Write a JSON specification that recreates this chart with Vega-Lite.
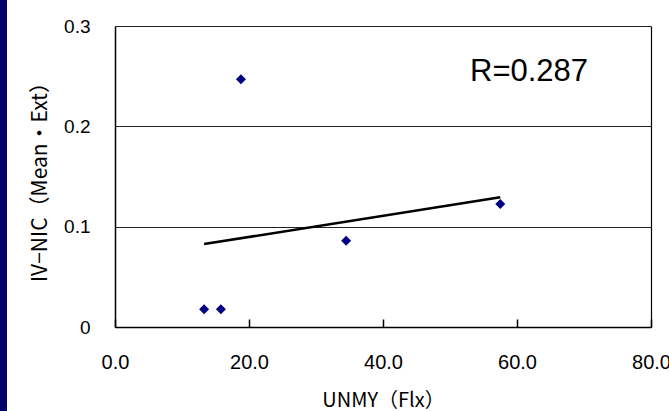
{
  "$schema": "https://vega.github.io/schema/vega-lite/v6.json",
  "width": 536,
  "height": 301,
  "autosize": {"type": "none"},
  "padding": {"left": 115, "top": 26, "right": 18, "bottom": 84},
  "background": "#000066",
  "config": {
    "view": {"fill": "white", "stroke": "white", "strokeWidth": 216},
    "axis": {
      "labelFont": "Liberation Sans",
      "labelFontSize": 19,
      "labelColor": "black",
      "labelFlush": false,
      "titleFont": "Noto Sans CJK JP",
      "titleFontSize": 20,
      "titleFontWeight": "normal",
      "titleColor": "black",
      "domainColor": "black",
      "domainWidth": 1.5,
      "gridColor": "#222222",
      "gridWidth": 1.2
    }
  },
  "data": {
    "values": [
      {"UNMY": 13.3, "IVNIC": 0.0176},
      {"UNMY": 15.8, "IVNIC": 0.0176},
      {"UNMY": 18.8, "IVNIC": 0.247},
      {"UNMY": 34.5, "IVNIC": 0.086},
      {"UNMY": 57.5, "IVNIC": 0.1226}
    ]
  },
  "layer": [
    {
      "transform": [{"regression": "IVNIC", "on": "UNMY"}],
      "mark": {"type": "line", "color": "black", "strokeWidth": 2.5},
      "encoding": {
        "x": {"field": "UNMY", "type": "quantitative"},
        "y": {"field": "IVNIC", "type": "quantitative"}
      }
    },
    {
      "mark": {"type": "point", "shape": "diamond", "filled": true, "color": "#000080", "opacity": 1, "size": 100},
      "encoding": {
        "x": {
          "field": "UNMY",
          "type": "quantitative",
          "scale": {"domain": [0, 80], "nice": false, "zero": false},
          "axis": {
            "title": "UNMY（Flx）",
            "values": [0, 20, 40, 60, 80],
            "format": ".1f",
            "labelFontSize": 20,
            "labelFlush": false,
            "tickSize": -8,
            "tickColor": "black",
            "tickWidth": 1.5,
            "labelPadding": 33,
            "labelOverlap": false,
            "titlePadding": 18,
            "grid": true,
            "gridColor": "black",
            "gridOpacity": {"condition": {"test": "datum.value === 80", "value": 1}, "value": 0}
          }
        },
        "y": {
          "field": "IVNIC",
          "type": "quantitative",
          "scale": {"domain": [0, 0.3], "nice": false, "zero": false},
          "axis": {
            "title": "IV−NIC（Mean・Ext）",
            "titleFontSize": 21,
            "values": [0, 0.1, 0.2, 0.3],
            "format": ".1~f",
            "ticks": false,
            "tickSize": 0,
            "labelPadding": 25,
            "titlePadding": 13,
            "grid": true
          }
        }
      }
    },
    {
      "data": {"values": [{"label": "R=0.287"}]},
      "mark": {"type": "text", "font": "Liberation Sans", "fontSize": 31, "align": "center", "baseline": "middle", "color": "black"},
      "encoding": {
        "x": {"datum": 61.8, "type": "quantitative"},
        "y": {"datum": 0.254, "type": "quantitative"},
        "text": {"field": "label"}
      }
    }
  ]
}
